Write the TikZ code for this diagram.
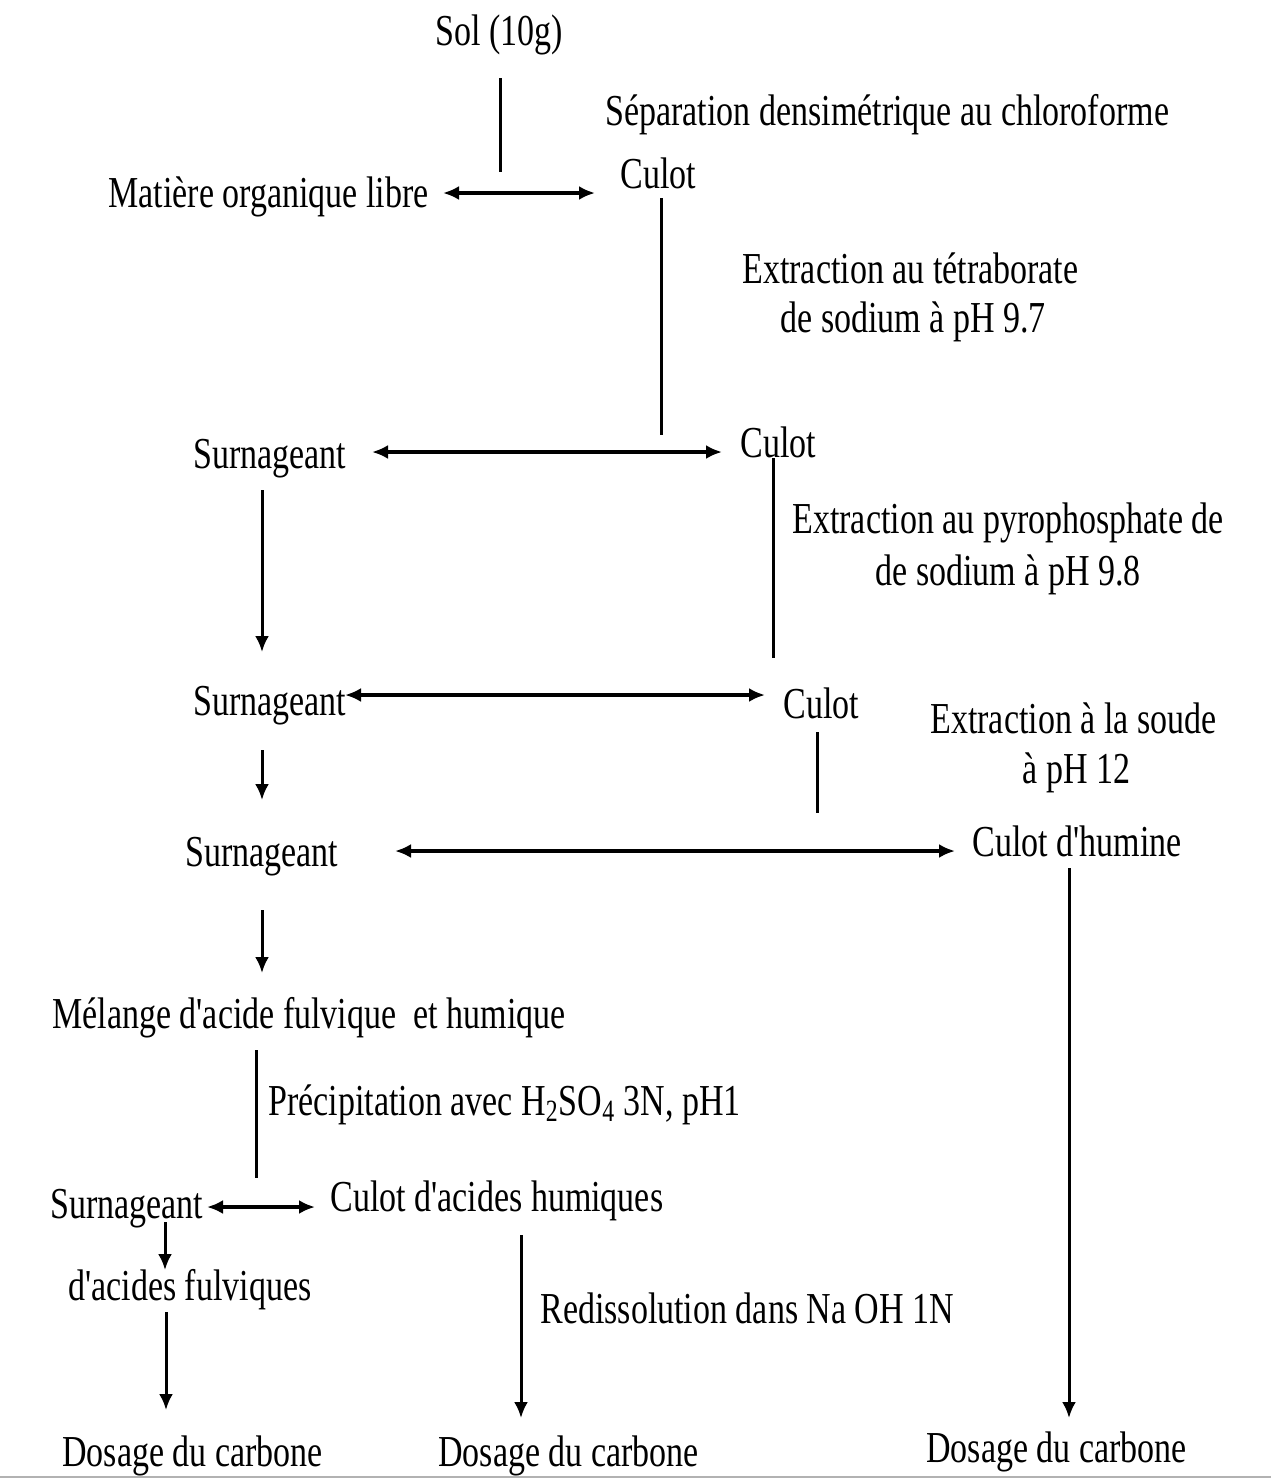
\documentclass[tikz,border=0pt]{standalone}
\usepackage{fontspec}
\setmainfont{Liberation Serif}
\usepackage{graphicx}
\usetikzlibrary{arrows.meta}
\newcommand\tx[1]{\scalebox{1}[1.3]{#1}}
\newcommand\ap{\textquotesingle}
\begin{document}
\begin{tikzpicture}[x=0.5pt,y=-0.5pt,
  lbl/.style={inner sep=0pt, anchor=base west, font=\fontsize{17}{20}\selectfont},
  link/.style={line width=1.5pt},
  flow/.style={line width=1.5pt,-{Latex[length=8pt,width=7pt]}},
  both/.style={line width=2.2pt,{Latex[length=8pt,width=7pt]}-{Latex[length=8pt,width=7pt]}}]
\useasboundingbox[fill=white] (0,0) rectangle (1271,1479);

% texts
\node[lbl] (sol) at (435,45) {\tx{Sol (10g)}};
\node[lbl] (sep) at (605,125) {\tx{Séparation densimétrique au chloroforme}};
\node[lbl] (mol) at (108,207) {\tx{Matière organique libre}};
\node[lbl] (c1) at (620,188) {\tx{Culot}};
\node[lbl] (e1a) at (742,283) {\tx{Extraction au tétraborate}};
\node[lbl] (e1b) at (780,332) {\tx{de sodium à pH 9.7}};
\node[lbl] (s1) at (193,468) {\tx{Surnageant}};
\node[lbl] (c2) at (740,457) {\tx{Culot}};
\node[lbl] (e2a) at (792,533) {\tx{Extraction au pyrophosphate de}};
\node[lbl] (e2b) at (875,585) {\tx{de sodium à pH 9.8}};
\node[lbl] (s2) at (193,715) {\tx{Surnageant}};
\node[lbl] (c3) at (783,718) {\tx{Culot}};
\node[lbl] (e3a) at (930,733) {\tx{Extraction à la soude}};
\node[lbl] (e3b) at (1022,783) {\tx{à pH 12}};
\node[lbl] (s3) at (185,866) {\tx{Surnageant}};
\node[lbl] (hum) at (972,856) {\tx{Culot d\ap humine}};
\node[lbl] (mel) at (52,1028) {\tx{Mélange d\ap acide fulvique~ et humique}};
\node[lbl] (pre) at (268,1115) {\tx{Précipitation avec H\textsubscript{2}SO\textsubscript{4} 3N, pH1}};
\node[lbl] (s4) at (50,1218) {\tx{Surnageant}};
\node[lbl] (cah) at (330,1211) {\tx{Culot d\ap acides humiques}};
\node[lbl] (afv) at (68,1300) {\tx{d\ap acides fulviques}};
\node[lbl] (red) at (540,1323) {\tx{Redissolution dans Na OH 1N}};
\node[lbl] (d1) at (62,1466) {\tx{Dosage du carbone}};
\node[lbl] (d2) at (438,1466) {\tx{Dosage du carbone}};
\node[lbl] (d3) at (926,1462) {\tx{Dosage du carbone}};

% connector end points
\coordinate (v1t) at (500,78);   \coordinate (v1b) at (500,172);
\coordinate (h1l) at (443,193);  \coordinate (h1r) at (595,193);
\coordinate (v2t) at (661,198);  \coordinate (v2b) at (661,435);
\coordinate (h2l) at (372,452);  \coordinate (h2r) at (722,452);
\coordinate (v3t) at (773,458);  \coordinate (v3b) at (773,658);
\coordinate (a1t) at (262,490);  \coordinate (a1b) at (262,652);
\coordinate (h3l) at (345,695);  \coordinate (h3r) at (765,695);
\coordinate (v4t) at (817,732);  \coordinate (v4b) at (817,813);
\coordinate (a2t) at (262,750);  \coordinate (a2b) at (262,800);
\coordinate (h4l) at (395,851);  \coordinate (h4r) at (955,851);
\coordinate (a3t) at (262,910);  \coordinate (a3b) at (262,973);
\coordinate (a4t) at (1069,868); \coordinate (a4b) at (1069,1418);
\coordinate (v5t) at (256,1050); \coordinate (v5b) at (256,1178);
\coordinate (h5l) at (207,1207); \coordinate (h5r) at (315,1207);
\coordinate (a5t) at (165,1222); \coordinate (a5b) at (165,1270);
\coordinate (a6t) at (166,1312); \coordinate (a6b) at (166,1410);
\coordinate (a7t) at (521,1235); \coordinate (a7b) at (521,1418);
\coordinate (gl) at (0,1477);    \coordinate (gr) at (1271,1477);

\draw[link] (v1t) -- (v1b);
\draw[both] (h1l) -- (h1r);
\draw[link] (v2t) -- (v2b);
\draw[both] (h2l) -- (h2r);
\draw[link] (v3t) -- (v3b);
\draw[flow] (a1t) -- (a1b);
\draw[both] (h3l) -- (h3r);
\draw[link] (v4t) -- (v4b);
\draw[flow] (a2t) -- (a2b);
\draw[both] (h4l) -- (h4r);
\draw[flow] (a3t) -- (a3b);
\draw[flow] (a4t) -- (a4b);
\draw[link] (v5t) -- (v5b);
\draw[both] (h5l) -- (h5r);
\draw[flow] (a5t) -- (a5b);
\draw[flow] (a6t) -- (a6b);
\draw[flow] (a7t) -- (a7b);
\draw[gray!60, line width=0.8pt] (gl) -- (gr);
\end{tikzpicture}
\end{document}
